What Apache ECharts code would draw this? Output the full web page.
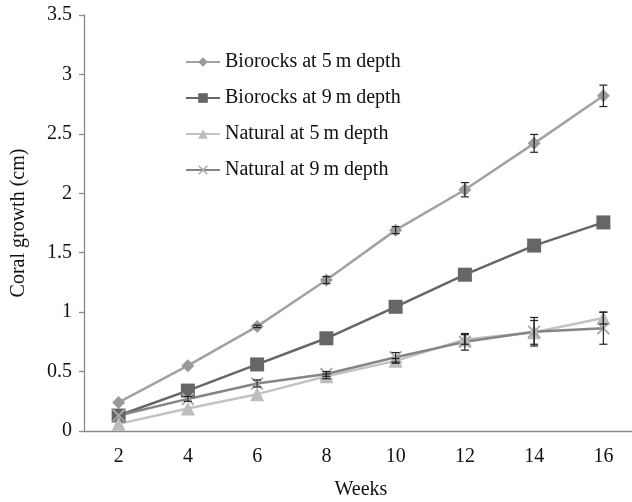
<!DOCTYPE html>
<html>
<head>
<meta charset="utf-8">
<script src="https://cdn.jsdelivr.net/npm/echarts@6/dist/echarts.min.js"></script>
<style>
  html, body { margin: 0; padding: 0; background: #fff; }
  #chart { width: 632px; height: 502px; }
</style>
</head>
<body>
<div id="chart"></div>
<script>
// Weeks since deployment
const weeks = ['2', '4', '6', '8', '10', '12', '14', '16'];

// Mean coral growth (cm) and error margins per group
const biorocks5 = [0.24, 0.55, 0.88, 1.27, 1.69, 2.03, 2.42, 2.82];
const biorocks5Err = [0, 0, 0.01, 0.03, 0.03, 0.06, 0.075, 0.09];
const biorocks9 = [0.13, 0.34, 0.56, 0.78, 1.045, 1.315, 1.56, 1.755];
const biorocks9Err = [0, 0, 0, 0, 0, 0, 0, 0];
const natural5 = [0.06, 0.19, 0.31, 0.46, 0.59, 0.77, 0.83, 0.95];
const natural5Err = [0, 0, 0, 0.02, 0.02, 0.04, 0.1, 0.05];
const natural9 = [0.13, 0.27, 0.4, 0.48, 0.62, 0.75, 0.835, 0.865];
const natural9Err = [0, 0.02, 0.03, 0.02, 0.04, 0.07, 0.12, 0.135];

const serif = '"Liberation Serif", "DejaVu Serif", serif';
const crossPath = 'path://M0,1L1,0L5,4L9,0L10,1L6,5L10,9L9,10L5,6L1,10L0,9L4,5Z';

function lineSeries(name, data, color, symbol, size, symbolColor) {
  return {
    name: name,
    type: 'line',
    data: data,
    symbol: symbol,
    symbolSize: size,
    showAllSymbol: true,
    lineStyle: { color: color, width: 2.5 },
    itemStyle: { color: symbolColor || color },
    z: 3
  };
}

function errorSeries(values, errs) {
  const rows = values.map((v, i) => [i, v, errs[i]]).filter(r => r[2] > 0);
  return {
    type: 'custom',
    data: rows,
    z: 5,
    silent: true,
    renderItem: function (params, api) {
      const x = api.value(0);
      const v = api.value(1);
      const e = api.value(2);
      const hi = api.coord([x, v + e]);
      const lo = api.coord([x, v - e]);
      const cap = 4;
      const style = { stroke: '#222', lineWidth: 1.2 };
      return {
        type: 'group',
        children: [
          { type: 'line', shape: { x1: hi[0], y1: hi[1], x2: lo[0], y2: lo[1] }, style: style },
          { type: 'line', shape: { x1: hi[0] - cap, y1: hi[1], x2: hi[0] + cap, y2: hi[1] }, style: style },
          { type: 'line', shape: { x1: lo[0] - cap, y1: lo[1], x2: lo[0] + cap, y2: lo[1] }, style: style }
        ]
      };
    }
  };
}

const chart = echarts.init(document.getElementById('chart'));
chart.setOption({
  animation: false,
  backgroundColor: '#fff',
  textStyle: { fontFamily: serif },
  grid: { left: 84, top: 15, bottom: 71, right: -6, outerBoundsMode: 'none', containLabel: false },
  legend: {
    orient: 'vertical',
    left: 180,
    top: 47,
    itemWidth: 34,
    itemHeight: 12,
    itemGap: 16,
    textStyle: { fontFamily: serif, fontSize: 20, color: '#111' },
    data: ['Biorocks at 5\u2009m depth', 'Biorocks at 9\u2009m depth', 'Natural at 5\u2009m depth', 'Natural at 9\u2009m depth']
  },
  xAxis: {
    type: 'category',
    data: weeks,
    boundaryGap: true,
    name: 'Weeks',
    nameLocation: 'middle',
    nameGap: 49,
    nameTextStyle: { fontFamily: serif, fontSize: 20, color: '#111' },
    axisLine: { lineStyle: { color: '#8a8a8a', width: 1.3 } },
    axisTick: { length: 7, lineStyle: { color: '#8a8a8a', width: 1.3 } },
    axisLabel: { fontFamily: serif, fontSize: 20, color: '#111', margin: 16 },
    splitLine: { show: false }
  },
  yAxis: {
    type: 'value',
    min: 0,
    max: 3.5,
    interval: 0.5,
    name: 'Coral growth (cm)',
    nameLocation: 'middle',
    nameGap: 55,
    nameTextStyle: { fontFamily: serif, fontSize: 20, color: '#111' },
    axisLine: { show: true, lineStyle: { color: '#8a8a8a', width: 1.3 } },
    axisTick: { show: true, length: 5, lineStyle: { color: '#8a8a8a', width: 1.3 } },
    axisLabel: { fontFamily: serif, fontSize: 20, color: '#111', margin: 12 },
    splitLine: { show: false }
  },
  series: [
    lineSeries('Biorocks at 5\u2009m depth', biorocks5, '#a2a2a2', 'diamond', 13, '#9a9a9a'),
    lineSeries('Biorocks at 9\u2009m depth', biorocks9, '#666666', 'rect', 14, '#666666'),
    lineSeries('Natural at 5\u2009m depth', natural5, '#c3c3c3', 'triangle', 14, '#bdbdbd'),
    lineSeries('Natural at 9\u2009m depth', natural9, '#858585', crossPath, 13, '#a8a8a8'),
    errorSeries(biorocks5, biorocks5Err),
    errorSeries(biorocks9, biorocks9Err),
    errorSeries(natural5, natural5Err),
    errorSeries(natural9, natural9Err)
  ]
});
</script>
</body>
</html>
